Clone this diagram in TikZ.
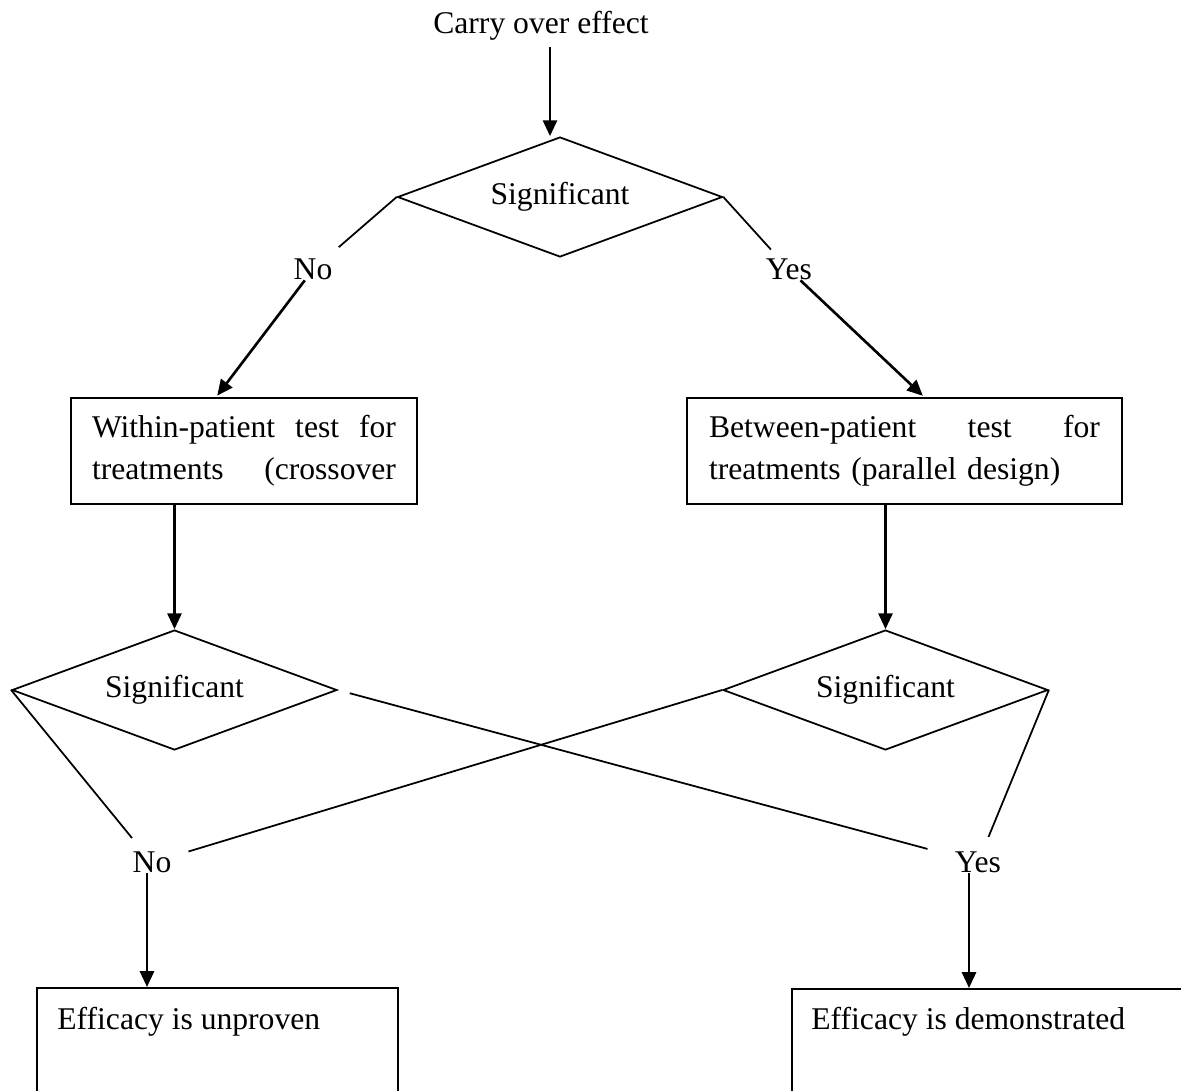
\documentclass[tikz,border=0pt]{standalone}
\usepackage{fontspec}
\setmainfont{Liberation Serif}
\usetikzlibrary{shapes.geometric,arrows.meta,calc}

\begin{document}
\begin{tikzpicture}[x=0.02cm,y=-0.02cm,font=\fontsize{18}{23.8}\selectfont,
  decision/.style={draw,diamond,aspect=2.7,inner sep=0pt,minimum width=6.5cm,minimum height=2.4cm,line width=1pt},
  testbox/.style={draw,rectangle,line width=1.1pt,minimum height=2.12cm,align=left},
  resultbox/.style={draw,rectangle,line width=1.1pt,anchor=north west,minimum height=3cm},
  answer/.style={inner sep=0pt},
  link/.style={line width=1pt},
  arr/.style={line width=1.5pt,-{Triangle[length=9pt,width=8pt]}}]
\useasboundingbox (0,0) rectangle (1181,1090);
\clip (0,0) rectangle (1181,1090);

% first question
\node[anchor=base,inner sep=0pt] (carry) at (541,33) {Carry over effect};
\node[decision] (sig) at (560,197) {Significant};
\node[answer] (no) at (313,269.5) {No};
\node[answer] (yes) at (789,269.5) {Yes};

% the two tests
\node[testbox,text width=6.08cm,minimum width=6.92cm] (within) at (244,451)
  {\makebox[6.08cm][l]{Within-patient\hfill test\hfill for}\\ \makebox[6.08cm][l]{treatments\hfill(crossover}};
\node[testbox,text width=7.82cm,minimum width=8.7cm] (between) at (904.5,451)
  {\makebox[7.82cm][l]{Between-patient\hfill test\hfill for}\\ treatments (parallel design)};

% second questions
\node[decision] (sigw) at (174.5,690) {Significant};
\node[decision] (sigb) at (885.5,690) {Significant};
\node[answer] (no2) at (152,862.5) {No};
\node[answer] (yes2) at (978,862.5) {Yes};

% outcomes
\node[resultbox,minimum width=7.22cm] (unproven) at (36,987) {};
\node[resultbox,minimum width=8.4cm] (shown) at (791,988) {};
\node[anchor=base west,inner sep=0pt] (unprovenT) at (57,1029) {Efficacy is unproven};
\node[anchor=base west,inner sep=0pt] (shownT) at (811,1029) {Efficacy is demonstrated};

\draw[arr,shorten <=4pt] ([xshift=-0.2cm]sig.north |- carry.south) -- ([xshift=-0.2cm]sig.north);
\draw[link,shorten >=10pt] (sig.west) -- (no);
\draw[arr,shorten >=1pt] (no) -- ($(within.north west)!0.42!(within.north east)$);
\draw[link,shorten >=7pt] (sig.east) -- (yes);
\draw[arr,shorten >=1pt] (yes) -- ($(between.north west)!0.545!(between.north east)$);

\draw[arr] (within.south -| sigw.north) -- (sigw.north);
\draw[arr] (between.south -| sigb.north) -- (sigb.north);

% crossing lines
\draw[link,shorten >=10pt] (sigw.west) -- (no2);
\draw[link,shorten <=7pt,shorten >=16pt] (sigw.east) -- (yes2);
\draw[link,shorten >=10pt] (sigb.west) -- (no2);
\draw[link,shorten >=9pt] (sigb.east) -- (yes2);

\draw[arr] ([xshift=-0.1cm]no2.south) -- ([xshift=-0.1cm]no2.south |- unproven.north);
\draw[arr] ([xshift=-0.18cm]yes2.south) -- ([xshift=-0.18cm]yes2.south |- shown.north);
\end{tikzpicture}
\end{document}
